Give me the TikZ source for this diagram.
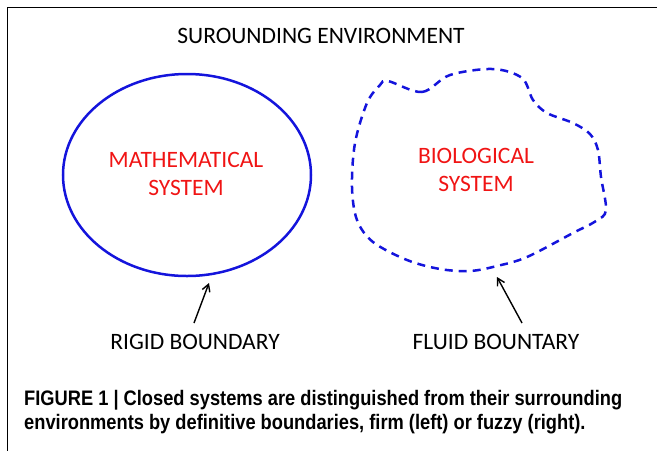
\documentclass[tikz,border=0pt]{standalone}
\usepackage{fontspec}
\setmainfont{Carlito}
\newfontfamily\capfont[FakeStretch=0.87]{Liberation Sans}
\usetikzlibrary{arrows.meta}
\definecolor{sysblue}{RGB}{20,20,220}
\definecolor{sysred}{RGB}{240,20,20}
\begin{document}
\begin{tikzpicture}[x=1pt,y=-1pt,
  lbl/.style={font=\fontsize{23.5}{26}\selectfont, text=black, inner sep=0pt},
  sysname/.style={font=\fontsize{23.5}{28}\selectfont, text=sysred, align=center, inner sep=0pt},
  boundary/.style={draw=sysblue, line width=2.5pt},
  pointer/.style={-{Straight Barb[length=7pt,width=8pt]}, line width=1.4pt, black},
  captionline/.style={anchor=base west, inner sep=0pt, font=\capfont\bfseries\fontsize{21}{25}\selectfont}]
\useasboundingbox (0,0) rectangle (657,451);
% open frame: top and left rules
\draw[line width=1pt] (657,7) -- (7,7) -- (7,451);
% title
\node[lbl] (title) at (321,36) {SUROUNDING ENVIRONMENT};
% rigid boundary
\draw[boundary] (187,175) ellipse [x radius=124, y radius=101];
\node[sysname] (math) at (186,174) {MATHEMATICAL\\SYSTEM};
% fluid boundary
\draw[boundary, dash pattern=on 8pt off 6pt] plot[smooth cycle, tension=0.55] coordinates {
  (388,81) (422,92) (450,75) (493,69) (522,78) (533,100) (547,113) (573,123)
  (590,134) (598,150) (601,177) (606,210) (596,221) (573,233) (527,257)
  (497,266) (470,271) (440,269) (407,260) (373,242) (357,220) (352,187)
  (355,143) (367,103) (380,85)};
\node[sysname] (bio) at (476,170) {BIOLOGICAL\\SYSTEM};
% labels and pointers
\node[lbl] (rigid) at (195,342) {RIGID BOUNDARY};
\node[lbl] (fluid) at (496,342) {FLUID BOUNTARY};
\coordinate (rigidtip) at (209,283);
\coordinate (fluidtip) at (497,277);
\draw[pointer] (194,323) -- (rigidtip);
\draw[pointer] (522,323) -- (fluidtip);
% caption, one node per line
\node[captionline] (cap1) at (24,405)
  {FIGURE 1 | Closed systems are distinguished from their surrounding};
\node[captionline] (cap2) at (24,429)
  {environments by definitive boundaries, firm (left) or fuzzy (right).};
\end{tikzpicture}
\end{document}
